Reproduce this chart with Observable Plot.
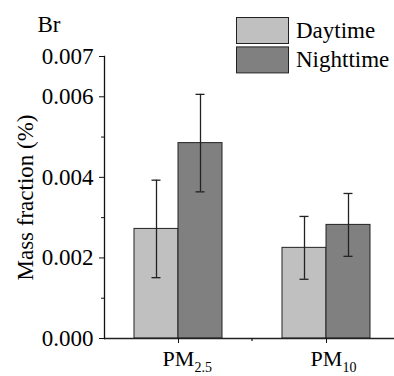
<!DOCTYPE html>
<html><head><meta charset="utf-8">
<script src="https://cdn.jsdelivr.net/npm/d3@7"></script>
<script src="https://cdn.jsdelivr.net/npm/@observablehq/plot@0.6"></script>
<style>
body{margin:0;background:#fff;}
#wrap{position:relative;width:394px;height:376px;overflow:hidden;}
#wrap svg, #wrap svg text{font-family:"Liberation Serif","DejaVu Serif",serif !important;}
</style></head><body><div id="wrap"></div>
<script>
const categories = ["PM2.5", "PM10"];
const catMain = ["PM", "PM"];
const catSub = ["2.5", "10"];
const periods = ["Daytime", "Nighttime"];
const dayValues = [0.00272, 0.00225];
const dayErrors = [0.00121, 0.00078];
const nightValues = [0.00485, 0.00282];
const nightErrors = [0.00121, 0.00078];
const yTicks = [0, 0.002, 0.004, 0.006, 0.007];
const yMinorTicks = [0.001, 0.003, 0.005];
const colors = ["#c0c0c0", "#808080"];
const panelTitle = "Br";
const yTitle = "Mass fraction (%)";

const data = [];
categories.forEach((c, i) => {
  data.push({cat: c, period: periods[0], value: dayValues[i], err: dayErrors[i]});
  data.push({cat: c, period: periods[1], value: nightValues[i], err: nightErrors[i]});
});

const FONT = "Liberation Serif, DejaVu Serif, serif";
const chart = Plot.plot({
  width: 394, height: 376,
  marginLeft: 104, marginRight: 0, marginTop: 56, marginBottom: 38,
  style: {fontFamily: FONT, fontSize: "23px", color: "#000", background: "#fff", overflow: "visible"},
  fx: {domain: categories, range: [104, 400], padding: 0, label: null},
  x: {domain: periods, paddingInner: 0, paddingOuter: 0.669, axis: null},
  y: {domain: [0, 0.007]},
  color: {domain: periods, range: colors},
  marks: [
    Plot.barY(data, {fx: "cat", x: "period", y: "value", fill: "period", stroke: "#222", strokeWidth: 1}),
    Plot.ruleX(data, {fx: "cat", x: "period", y1: d => d.value - d.err, y2: d => d.value + d.err, stroke: "#222", strokeWidth: 1.3}),
    Plot.tickY(data, {fx: "cat", x: "period", y: d => d.value - d.err, insetLeft: 17.5, insetRight: 17.5, stroke: "#222", strokeWidth: 1.3}),
    Plot.tickY(data, {fx: "cat", x: "period", y: d => d.value + d.err, insetLeft: 17.5, insetRight: 17.5, stroke: "#222", strokeWidth: 1.3}),
    Plot.ruleY([0], {stroke: "#222", strokeWidth: 1.5}),
    Plot.frame({anchor: "left", facetAnchor: "left", stroke: "#111", strokeWidth: 1.3}),
    Plot.axisY({ticks: yTicks, tickFormat: d3.format(".3f"), tickSize: 5, tickPadding: 6, fontSize: 23,
      label: yTitle, labelAnchor: "center", labelOffset: 88, labelArrow: "none", stroke: "#111"}),
    Plot.axisY({ticks: yMinorTicks, tickSize: 3, tickFormat: () => "", label: null, stroke: "#111"}),
    Plot.axisFx({anchor: "bottom", tickSize: 5, tickPadding: 7, fontSize: 22, label: null, tickFormat: d => d, stroke: "#111"})
  ]
});
document.getElementById("wrap").append(chart);

const svg = d3.select(chart.tagName.toLowerCase() === "svg" ? chart : chart.querySelector("svg"));

// subscript tick labels on the category axis
svg.selectAll('g[aria-label="fx-axis tick label"] text').each(function() {
  const t = d3.select(this);
  const key = this.textContent;
  const i = categories.indexOf(key);
  if (i < 0) return;
  t.text(null);
  const main = t.append("tspan").text(catMain[i]);
  t.append("tspan").attr("dy", 6).attr("font-size", 14).text(catSub[i]);
  const w = main.node().getComputedTextLength();
  t.attr("text-anchor", "start").attr("dx", -w / 2);
});

// minor tick between categories
const fx = chart.scale("fx");
const ys = chart.scale("y");
const bx = fx.apply(categories[0]) + fx.bandwidth;
const y0 = ys.apply(0);
svg.append("line").attr("x1", bx).attr("x2", bx).attr("y1", y0).attr("y2", y0 + 3)
  .attr("stroke", "#111").attr("stroke-width", 1.2);

// panel title
svg.append("text").attr("x", 37.5).attr("y", 32).attr("font-size", 23).attr("text-anchor", "start")
  .attr("fill", "#000").text(panelTitle);

// legend
const leg = svg.append("g").attr("font-size", 23).attr("text-anchor", "start");
periods.forEach((p, i) => {
  leg.append("rect").attr("x", 236.5).attr("y", 17.5 + i * 29.4).attr("width", 52).attr("height", 26)
    .attr("fill", colors[i]).attr("stroke", "#222").attr("stroke-width", 1);
  leg.append("text").attr("x", 296).attr("y", 38.3 + i * 28.6).attr("fill", "#000").text(p);
});
</script>
</body></html>
